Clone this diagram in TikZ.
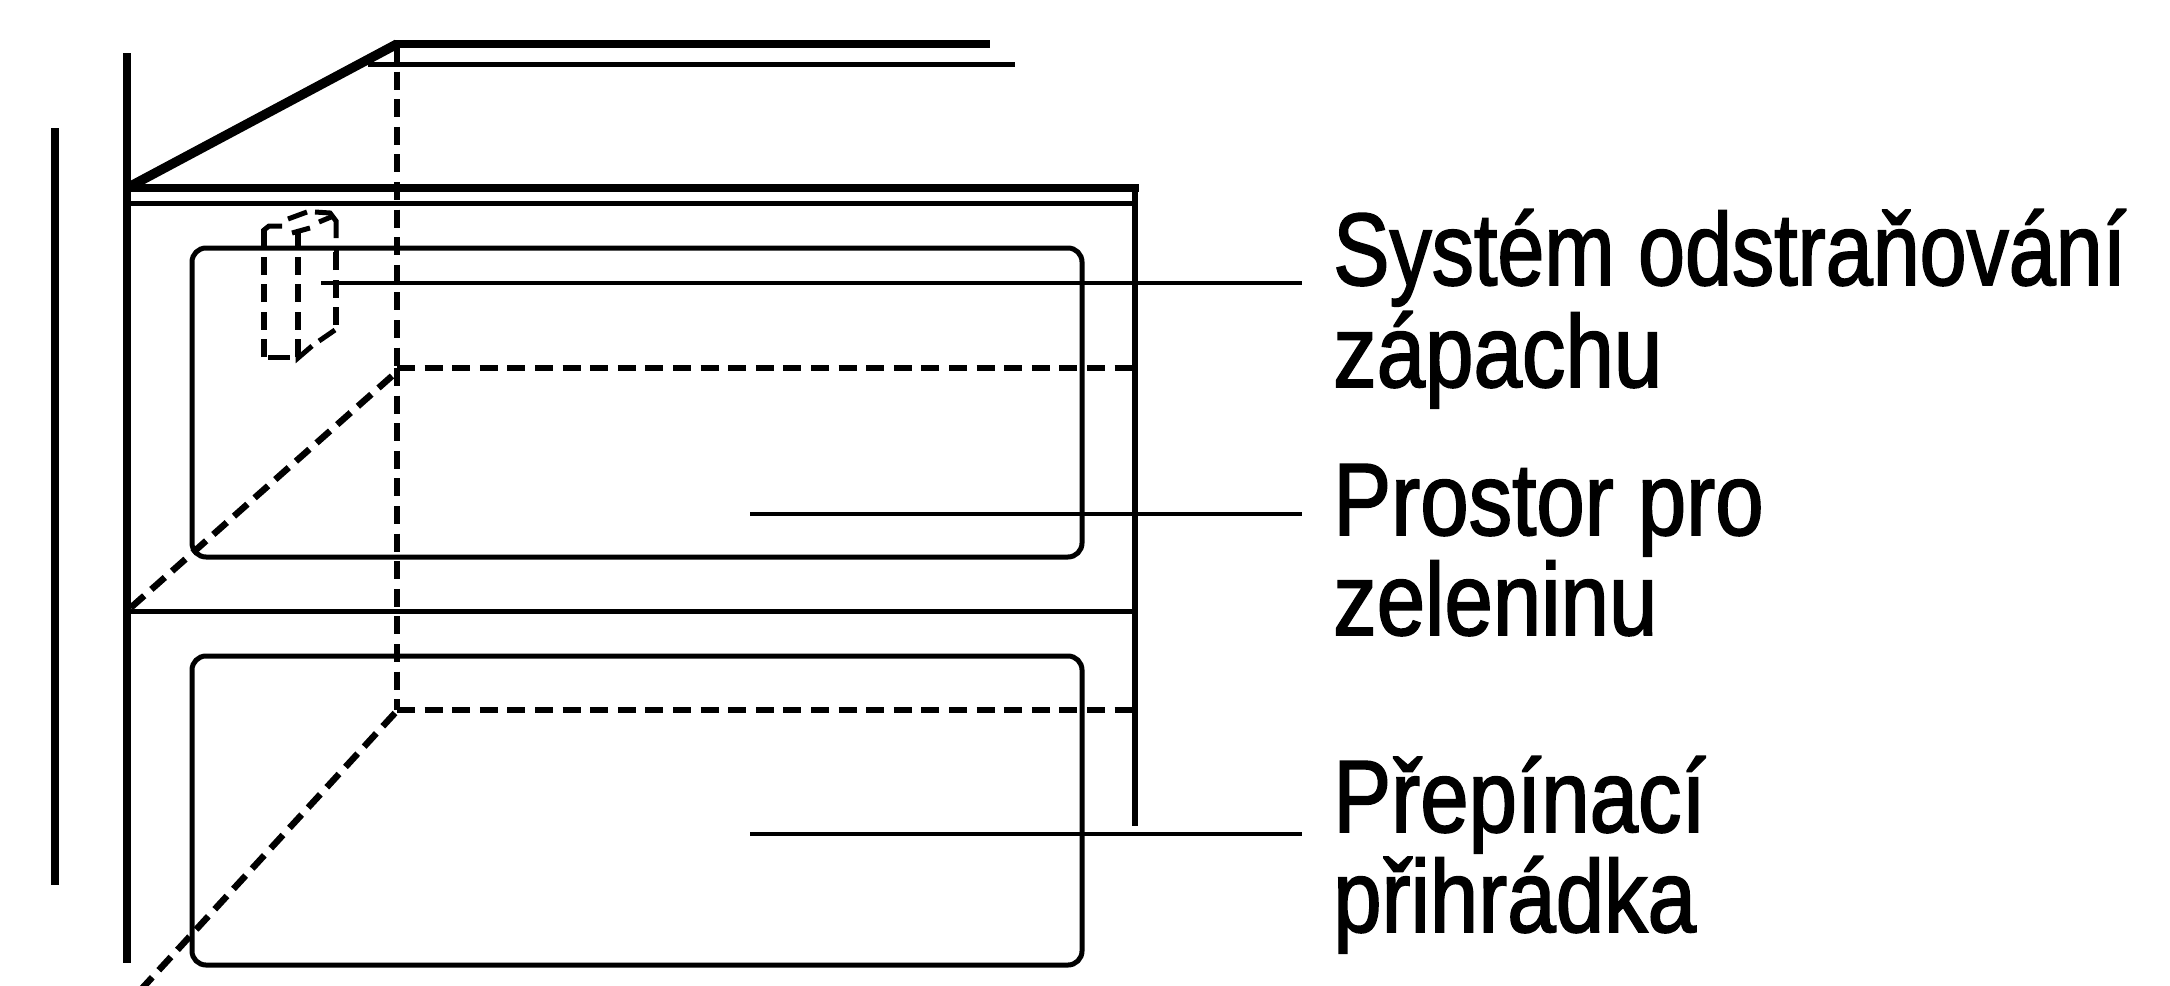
\documentclass[tikz,border=0pt]{standalone}
\usepackage{fontspec}
\usepackage{graphicx}
\setmainfont[FakeStretch=0.845,FakeBold=1.6]{Liberation Sans}
\tikzset{
  thick line/.style={line width=8.5pt,line cap=butt},
  mid line/.style={line width=5pt},
  thin line/.style={line width=4.5pt},
  dash line/.style={line width=5.5pt,dash pattern=on 18pt off 9.6pt},
  box line/.style={line width=5pt,rounded corners=14pt},
  small dash/.style={line width=5.5pt,dash pattern=on 18pt off 9.4pt},
  label text/.style={anchor=base west,inner sep=0pt,font=\fontsize{103pt}{103pt}\selectfont}
}
\begin{document}
\begin{tikzpicture}[x=1pt,y=-1pt]
\useasboundingbox (0,0) rectangle (2170,985);
% cabinet
\coordinate (shortT) at (55,128);
\coordinate (shortB) at (55,885);
\coordinate (tallT) at (127,53);
\coordinate (tallB) at (127,963);
\coordinate (apex) at (397,44);
\coordinate (corner) at (127,188);
\coordinate (topR) at (990,44);
\coordinate (cornerR) at (1135,188);
\coordinate (rightB) at (1135,826);
\draw[line width=8.5pt] (shortT) -- (shortB);
\draw[thick line] (tallT) -- (tallB);
\draw[line width=9.5pt] (corner) -- (apex);
\draw[thick line] (394,44) -- (topR);
\draw[mid line] (368,64) -- (1015,64);
\draw[thick line] (corner) -- (1139,188);
\draw[mid line] (127,203) -- (1135,203);
\draw[line width=6.5pt] (1135,185) -- (rightB);
\draw[mid line] (127,611) -- (1135,611);
% compartments
\draw[box line] (192,248) rectangle (1082,557);
\draw[box line] (192,656) rectangle (1082,965);
% dashed inner edges
\draw[dash line] (397,44) -- (397,368);
\draw[dash line] (397,368) -- (397,710);
\draw[dash line] (397,368) -- (1135,368);
\draw[dash line] (397,710) -- (1135,710);
\draw[line width=6.5pt,dash pattern=on 18pt off 9.6pt] (392,376) -- (127,611);
\draw[line width=6.5pt,dash pattern=on 18pt off 9.6pt] (395,713) -- (136,995);
% deodorising unit
\draw[small dash] (264,357) -- (264,228);
\draw[line width=5pt] (264,238) -- (264,230) -- (269,226) -- (282,226);
\draw[small dash] (298,357) -- (298,232);
\draw[line width=5pt] (268,357) -- (290,357);
\draw[line width=5pt] (298,345) -- (298,358) -- (312,346);
\draw[line width=5pt] (319,341) -- (335,330);
\draw[small dash] (336,325) -- (336,248);
\draw[line width=5pt] (336,238) -- (336,221) -- (330,213) -- (315,212);
\draw[line width=5pt] (319,222) -- (331,217);
\draw[line width=5pt] (288,219) -- (307,212);
\draw[line width=5pt] (292,233) -- (310,228);
\draw[line width=5pt] (336,262) -- (336,248);
% labels
\node[label text] (lab1a) at (1333,285) {\scalebox{0.97}[1]{Systém odstraňování}};
\node[label text] (lab1b) at (1333,387) {zápachu};
\node[label text] (lab2a) at (1333,535) {Prostor pro};
\node[label text] (lab2b) at (1333,635) {zeleninu};
\node[label text] (lab3a) at (1333,832) {Přepínací};
\node[label text] (lab3b) at (1333,932) {přihrádka};
% leaders
\coordinate (ld1s) at (321,283);
\coordinate (ld1e) at (1302,283);
\coordinate (ld2s) at (750,514);
\coordinate (ld2e) at (1302,514);
\coordinate (ld3s) at (750,834);
\coordinate (ld3e) at (1302,834);
\draw[thin line] (ld1s) -- (ld1e);
\draw[thin line] (ld2s) -- (ld2e);
\draw[thin line] (ld3s) -- (ld3e);
\end{tikzpicture}
\end{document}
